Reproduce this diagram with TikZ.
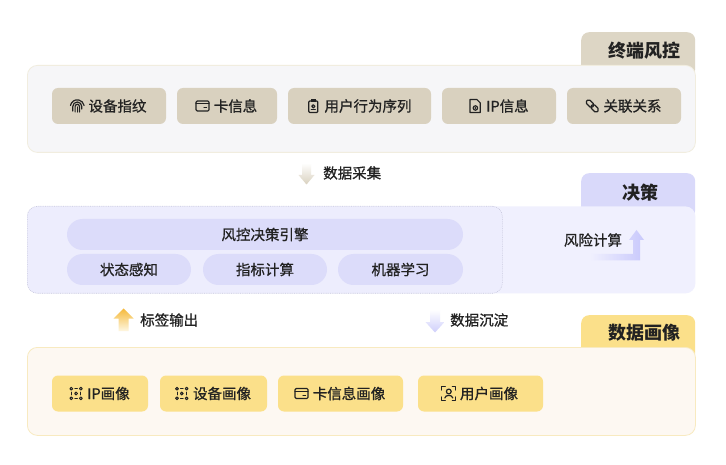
\documentclass[tikz,border=0pt]{standalone}
\usepackage{fontspec}
\setmainfont{Noto Sans CJK SC}
\newfontfamily\medfont{Noto Sans CJK SC}[FakeBold=0.9]
\usetikzlibrary{calc}
\definecolor{txt}{HTML}{222222}
\definecolor{beigeTab}{HTML}{DDD6C5}
\definecolor{beigeChip}{HTML}{D9D1BF}
\definecolor{grayPanel}{HTML}{F6F6F8}
\definecolor{grayBorder}{HTML}{F1EDDF}
\definecolor{lavPanel}{HTML}{F0F0FE}
\definecolor{lavInner}{HTML}{EDEDFD}
\definecolor{lavTab}{HTML}{D9D9FA}
\definecolor{lavPill}{HTML}{DCDCFA}
\definecolor{lavBorder}{HTML}{C8C8DE}
\definecolor{creamPanel}{HTML}{FDF8F2}
\definecolor{creamBorder}{HTML}{F8EAC0}
\definecolor{gold}{HTML}{FBE08A}
\definecolor{goldDark}{HTML}{F5B93A}
\newcommand{\mkchip}[7]{%
  \node[chip, fill=#5, minimum width=#4pt] (#1) at (#2,#3) {};
  \node[chiptxt, xshift=8.5pt] (#1t) at (#1.center) {#6};
  \path (#1t.west) ++(-11,0) coordinate (#1i);
  \begin{scope}[shift={(#1i)}, yscale=-1] #7 \end{scope}}
\newcommand{\icFinger}{%
  \draw[icon] (-4.5,-5)--(-4.5,-0.5) arc(180:0:4.5)--(4.5,-3);
  \draw[icon] (-2.2,-6)--(-2.2,-0.5) arc(180:0:2.2)--(2.2,-6);
  \draw[icon] (0,-1)--(0,-6);
  \draw[icon] (-6.8,0.5) arc(170:10:6.9);}
\newcommand{\icCard}{%
  \draw[icon, rounded corners=1.2] (-6.5,-5) rectangle (6.5,5);
  \draw[icon] (1.5,-1.8)--(4,-1.8);
  \draw[icon] (-6.5,2.2)--(6.5,2.2);}
\newcommand{\icClip}{%
  \draw[icon, rounded corners=1] (-4.5,-6.5) rectangle (4.5,5);
  \fill[txt] (-2.2,4) rectangle (2.2,6.8);
  \draw[icon] (0,-0.3) circle (1.6);
  \draw[icon] (-2,-3.6)--(2,-3.6);}
\newcommand{\icDoc}{%
  \draw[icon] (-5,-6.5)--(-5,6.5)--(1.8,6.5)--(5.2,3.1)--(5.2,-6.5)--cycle;
  \draw[icon] (0.3,-2) circle (2.2);
  \fill[txt] (0.3,-2) circle (0.9);}
\newcommand{\icLink}{%
  \begin{scope}[rotate=45]
  \draw[icon, rounded corners=1.8] (-7.5,-2.4) rectangle (0.8,2.4);
  \draw[icon, rounded corners=1.8] (-0.8,-2.4) rectangle (7.5,2.4);
  \end{scope}}
\newcommand{\icGrid}{%
  \foreach \px/\py in {-4.8/4.8,4.8/4.8,-4.8/-4.8,4.8/-4.8,0/0}{\draw[icon, line width=1pt] (\px,\py) circle (1.4);}
  \draw[icon, line width=1pt] (-1.3,4.8)--(1.3,4.8) (-1.3,-4.8)--(1.3,-4.8) (-4.8,-1.3)--(-4.8,1.3) (4.8,-1.3)--(4.8,1.3);}
\newcommand{\icUser}{%
  \draw[icon] (-7,3.5)--(-7,7)--(-3.5,7) (3.5,7)--(7,7)--(7,3.5)
              (7,-3.5)--(7,-7)--(3.5,-7) (-3.5,-7)--(-7,-7)--(-7,-3.5);
  \draw[icon] (0,2) circle (2.4);
  \draw[icon] (-4,-4.5) .. controls (-3.6,-1) and (3.6,-1) .. (4,-4.5);}
\begin{document}
\begin{tikzpicture}[x=1pt,y=-1pt, text=txt,
  tab/.style={rectangle, rounded corners=8pt, minimum width=114pt, minimum height=45pt, anchor=north west, inner sep=0pt},
  panel/.style={rectangle, rounded corners=10pt, anchor=north west, inner sep=0pt, minimum width=668pt, line width=0.8pt},
  chip/.style={rectangle, rounded corners=6pt, inner sep=0pt, minimum height=36pt},
  chiptxt/.style={inner sep=0pt, font=\medfont\fontsize{14.5}{17}\selectfont},
  pill/.style={rectangle, rounded corners=15.5pt, fill=lavPill, inner sep=0pt, minimum height=31pt, font=\medfont\fontsize{14.5}{17}\selectfont},
  tabtxt/.style={inner sep=0pt, font=\fontsize{18}{20}\selectfont\bfseries},
  flowtxt/.style={anchor=west, inner sep=0pt, font=\medfont\fontsize{14.5}{17}\selectfont},
  icon/.style={draw=txt, line width=1.2pt, line cap=round, line join=round}]
\useasboundingbox (0,0) rectangle (726,465);
\fill[white] (0,0) rectangle (726,465);

% ---------- Top: 终端风控 ----------
\node[tab, fill=beigeTab] (tabA) at (581,32) {};
\node[panel, fill=grayPanel, draw=grayBorder, minimum height=87pt] (panelA) at (27,65) {};
\node[tabtxt] (tabAt) at (644,51) {终端风控};
\mkchip{a1}{109}{106}{114}{beigeChip}{设备指纹}{\icFinger}
\mkchip{a2}{227}{106}{100}{beigeChip}{卡信息}{\icCard}
\mkchip{a3}{359.5}{106}{143}{beigeChip}{用户行为序列}{\icClip}
\mkchip{a4}{499}{106}{114}{beigeChip}{IP信息}{\icDoc}
\mkchip{a5}{624}{106}{114}{beigeChip}{关联关系}{\icLink}

% arrow 数据采集
\path[top color=white, bottom color=beigeChip] (302,163)--(311,163)--(311,175)--(314.5,175)--(306.5,184.5)--(298.5,175)--(302,175)--cycle;
\node[flowtxt] (f1) at (323,173) {数据采集};

% ---------- Middle: 决策 ----------
\node[tab, fill=lavTab] (tabB) at (581,173) {};
\node[panel, fill=lavPanel, minimum height=87pt] (panelB) at (27,206) {};
\node[panel, fill=lavInner, draw=lavBorder, densely dotted, line width=0.6pt, minimum width=475pt, minimum height=87pt] (inner) at (27,206) {};
\node[tabtxt] (tabBt) at (640,193) {决策};
\node[pill, minimum width=396pt] (p0) at (265,234.5) {风控决策引擎};
\node[pill, minimum width=124pt] (p1) at (129,269.5) {状态感知};
\node[pill, minimum width=124pt] (p2) at (265,269.5) {指标计算};
\node[pill, minimum width=125pt] (p3) at (400.5,269.5) {机器学习};
\node[chiptxt] (risk) at (593,240) {风险计算};
\path[left color=lavPanel, right color=lavPill!85!blue!80!white] (590,254)--(633,254)--(633,240)--(629,240)--(636.5,230)--(644,240)--(640,240)--(640,260.5)--(590,260.5)--cycle;

% arrows 标签输出 / 数据沉淀
\path[top color=goldDark, bottom color=gold!25!white] (123.5,308.5)--(133.5,318.5)--(128.5,318.5)--(128.5,331)--(118.5,331)--(118.5,318.5)--(113.5,318.5)--cycle;
\node[flowtxt] (f2) at (140,320) {标签输出};
\path[top color=white, bottom color=lavPill!90!blue!85!white] (430,309.5)--(440,309.5)--(440,322)--(444.5,322)--(435,332.5)--(425.5,322)--(430,322)--cycle;
\node[flowtxt] (f3) at (450,320) {数据沉淀};

% ---------- Bottom: 数据画像 ----------
\node[tab, fill=gold] (tabC) at (581,315) {};
\node[panel, fill=creamPanel, draw=creamBorder, minimum height=88pt] (panelC) at (27,347) {};
\node[tabtxt] (tabCt) at (644,333) {数据画像};
\mkchip{c1}{100}{393.5}{96}{gold}{IP画像}{\icGrid}
\mkchip{c2}{213.5}{393.5}{107}{gold}{设备画像}{\icGrid}
\mkchip{c3}{340.5}{393.5}{125}{gold}{卡信息画像}{\icCard}
\mkchip{c4}{480.5}{393.5}{125}{gold}{用户画像}{\icUser}
\end{tikzpicture}
\end{document}
